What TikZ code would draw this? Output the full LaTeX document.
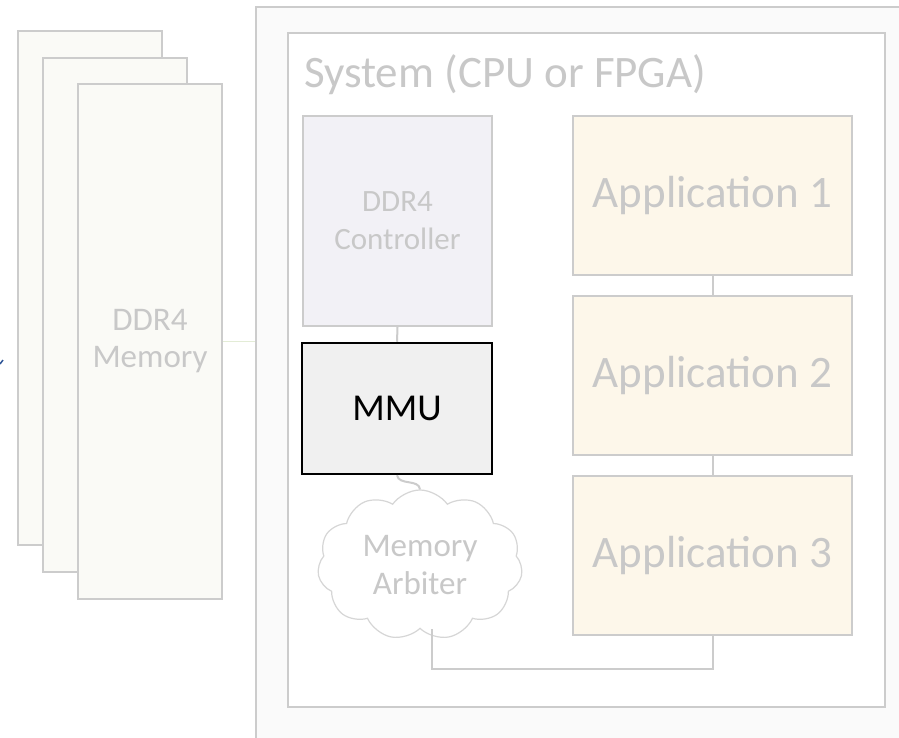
\documentclass[tikz,border=0pt]{standalone}
\usepackage{fontspec}
\setmainfont{Carlito}
\usetikzlibrary{shapes.symbols}

\definecolor{boxgrey}{HTML}{CCCCCC}
\definecolor{textgrey}{HTML}{C8C8C8}
\definecolor{memfill}{HTML}{FAFAF6}
\definecolor{ctrlfill}{HTML}{F2F1F6}
\definecolor{mmufill}{HTML}{F0F0F0}
\definecolor{appfill}{HTML}{FDF7EA}
\definecolor{sysfill}{HTML}{FAFAFA}
\definecolor{busgreen}{HTML}{E3ECD6}
\definecolor{markblue}{HTML}{2F5597}

\begin{document}
\begin{tikzpicture}[x=1pt, y=-1pt,
	box/.style = {draw = boxgrey, line width = 2pt, inner sep = 0pt, align = center, text = textgrey},
	sheet/.style = {box, fill = memfill, minimum width = 144pt, minimum height = 514pt, font = \fontsize{33}{37}\selectfont},
	appbox/.style = {box, fill = appfill, minimum width = 279pt, minimum height = 159pt, font = \fontsize{45}{45}\selectfont},
	link/.style = {draw = boxgrey, line width = 2pt}]

	\useasboundingbox (0, 0) rectangle (899, 738);

	% System boxes (outer one runs off the page)

	\node [box, fill = sysfill, minimum width = 700pt, minimum height = 760pt] (sys) at (606, 387) {};
	\node [box, fill = white, minimum width = 597pt, minimum height = 674pt] (cpu) at (586.5, 370) {};
	\node [anchor = base west, text = textgrey, font = \fontsize{45}{45}\selectfont, inner sep = 0pt] (title) at (304, 88) {System (CPU or FPGA)};

	% Memory sheets

	\foreach \i/\x/\y in {1/90/288, 2/115/315}
		\node [sheet] (mem\i) at (\x, \y) {};
	\node [sheet] (mem3) at (150, 341.5) {DDR4\\Memory};

	\draw [busgreen, line width = 1.5pt] (mem3.east) -- (sys.west |- mem3.east);

	% Controller, MMU and arbiter

	\node [box, fill = ctrlfill, minimum width = 189pt, minimum height = 210pt, font = \fontsize{31}{38}\selectfont] (ctrl) at (397.5, 221) {DDR4\\Controller};
	\node [draw = black, line width = 2.5pt, fill = mmufill, minimum width = 190pt, minimum height = 131pt, font = \fontsize{38}{38}\selectfont] (mmu) at (397, 408.5) {MMU};
	\node [cloud, cloud puffs = 11, cloud puff arc = 110, aspect = 1.4, draw = boxgrey!80, line width = 1.2pt, fill = white, text = textgrey, align = center,
		minimum width = 205pt, minimum height = 150pt, inner sep = 0pt, font = \fontsize{33}{38}\selectfont] (arb) at (420, 565) {Memory\\Arbiter};

	% Applications

	\foreach \i/\y in {1/195.5, 2/375.5, 3/555.5}
		\node [appbox] (app\i) at (712.5, \y) {Application \i};

	% Connectors

	\coordinate (bus) at (432, 669);
	\draw [link] (ctrl.south) -- (mmu.north);
	\draw [link] (mmu.south) to [out = -80, in = 95] (arb.north);
	\draw [link] (app1.south) -- (app2.north);
	\draw [link] (app2.south) -- (app3.north);
	\draw [link] (arb.south -| bus) -- (bus) -| (app3.south);

	% Stray mark at the left edge

	\draw [markblue, line width = 1.5pt] (0, 364) -- (3, 360);

\end{tikzpicture}
\end{document}
